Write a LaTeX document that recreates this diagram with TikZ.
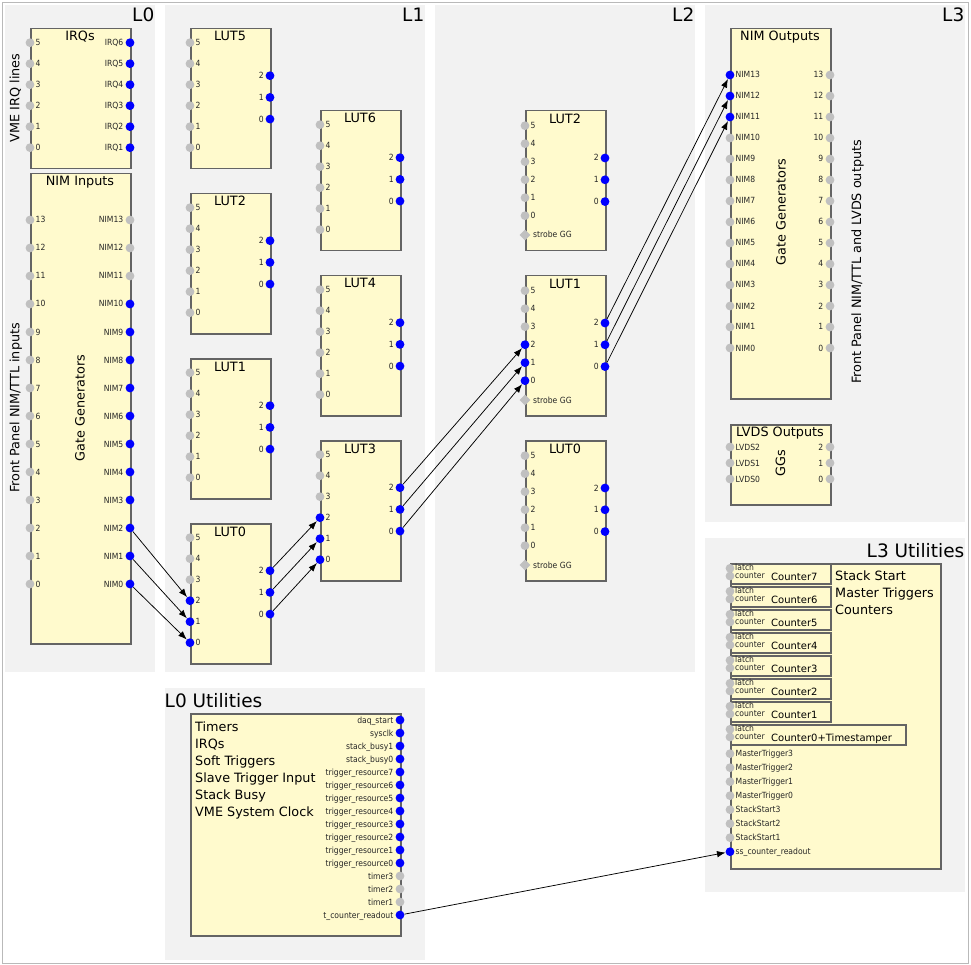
\documentclass[tikz,border=0pt]{standalone}
\usepackage{fontspec}
\setmainfont{DejaVu Sans}
\newfontfamily\condf{DejaVu Sans}[FakeStretch=0.9]
\usetikzlibrary{arrows.meta,shapes.geometric}
\definecolor{panelgray}{RGB}{242,242,242}
\definecolor{blkfill}{RGB}{255,250,205}
\definecolor{blkdraw}{RGB}{100,100,100}
\definecolor{portgray}{RGB}{192,192,192}
\definecolor{portblue}{RGB}{0,0,255}
\definecolor{framegray}{RGB}{185,185,185}
\tikzset{
 panel/.style={fill=panelgray, draw=none},
 blk/.style={draw=blkdraw, fill=blkfill, line width=1.5pt, inner sep=0pt, anchor=north west},
 port/.style={circle, fill=#1, draw=none, inner sep=0pt, minimum size=8.8pt},
 gdia/.style={diamond, fill=portgray, draw=none, inner sep=0pt, minimum width=11pt, minimum height=11pt},
 plab/.style={font=\condf\fontsize{8.5}{9}\selectfont, inner sep=0pt, text=black!85},
 lab/.style={plab, anchor=base west},
 rlab/.style={plab, anchor=base east},
 btitle/.style={font=\fontsize{12.8}{15}\selectfont, inner sep=0pt, anchor=base},
 ptitle/.style={font=\fontsize{18.5}{22}\selectfont, inner sep=0pt},
 mtext/.style={font=\fontsize{12.8}{15}\selectfont, inner sep=0pt, anchor=base west},
 ctext/.style={font=\fontsize{10}{12}\selectfont, inner sep=0pt, anchor=base west},
 smalltext/.style={plab, anchor=base west, font=\condf\fontsize{8.5}{8}\selectfont},
 vtext/.style={font=\fontsize{12.8}{15}\selectfont, inner sep=0pt, anchor=base, rotate=90},
 conn/.style={draw=black, line width=0.75pt, -{Latex[length=8.5pt,width=6.5pt]}},
}
% L1 LUT: name, x, top, title, number of blue inputs
\newcommand\lutA[5]{%
 \node[blk, minimum width=80pt, minimum height=140pt] (#1) at (#2,#3) {};
 \node[btitle] at ({#2+40},{#3+13}) {#4};
 \foreach \i [count=\k from 0] in {5,4,3,2,1,0}{%
   \ifnum\i<#5\def\pc{portblue}\else\def\pc{portgray}\fi
   \node[port=\pc] (#1-in\i) at (#2,{#3+14.7+21*\k}) {};
   \node[lab] at ({#2+5.5},{#3+17.7+21*\k}) {\i};
 }
 \foreach \i [count=\k from 0] in {2,1,0}{%
   \node[port=portblue] (#1-out\i) at ({#2+80},{#3+47.7+21.7*\k}) {};
   \node[rlab] at ({#2+74},{#3+50.7+21.7*\k}) {\i};
 }
}
% L2 LUT
\newcommand\lutB[5]{%
 \node[blk, minimum width=80pt, minimum height=140pt] (#1) at (#2,#3) {};
 \node[btitle] at ({#2+40},{#3+13.5}) {#4};
 \foreach \i [count=\k from 0] in {5,4,3,2,1,0}{%
   \ifnum\i<#5\def\pc{portblue}\else\def\pc{portgray}\fi
   \node[port=\pc] (#1-in\i) at (#2,{#3+15.7+18*\k}) {};
   \node[lab] at ({#2+5.5},{#3+18.7+18*\k}) {\i};
 }
 \node[gdia] (#1-strobe) at (#2,{#3+125}) {};
 \node[lab] at ({#2+8},{#3+128}) {strobe GG};
 \foreach \i [count=\k from 0] in {2,1,0}{%
   \node[port=portblue] (#1-out\i) at ({#2+80},{#3+48+21.8*\k}) {};
   \node[rlab] at ({#2+74},{#3+51+21.8*\k}) {\i};
 }
}
\begin{document}
\begin{tikzpicture}[x=1pt,y=-1pt]
\useasboundingbox (0,0) rectangle (971,965);
\fill[white] (0,0) rectangle (971,965);
\draw[framegray, line width=1pt] (2.5,2.5) rectangle (968.5,963.5);
% panels
\fill[panel] (5,5) rectangle (155,672);
\fill[panel] (165,5) rectangle (425,672);
\fill[panel] (435,5) rectangle (695,672);
\fill[panel] (705,5) rectangle (965,522);
\fill[panel] (705,538) rectangle (965,892);
\fill[panel] (165,688) rectangle (425,960);
\node[ptitle, anchor=base east] (tL0) at (154.5,22) {L0};
\node[ptitle, anchor=base east] (tL1) at (424.5,22) {L1};
\node[ptitle, anchor=base east] (tL2) at (694.5,22) {L2};
\node[ptitle, anchor=base east] (tL3) at (964.5,22) {L3};
\node[ptitle, anchor=base east] (tL3U) at (964.5,557) {L3 Utilities};
\node[ptitle, anchor=base west] (tL0U) at (164.5,707) {L0 Utilities};

% ---------- L0 ----------
\node[vtext] (vme) at (19.3,98) {VME IRQ lines};
\node[vtext] (fpin) at (19.3,408) {Front Panel NIM/TTL inputs};
\node[blk, minimum width=100pt, minimum height=140pt] (irqs) at (30,28) {};
\node[btitle] at (80,41) {IRQs};
\foreach \i [count=\k from 0] in {5,4,3,2,1,0}{%
  \pgfmathtruncatemacro\j{\i+1}
  \node[port=portgray] (irqs-i\i) at (30,{42.7+21*\k}) {};
  \node[lab] at (35.5,{45.7+21*\k}) {\i};
  \node[port=portblue] (irqs-o\j) at (130,{42.7+21*\k}) {};
  \node[rlab] at (123.5,{45.7+21*\k}) {IRQ\j};
}
\node[blk, minimum width=100pt, minimum height=470pt] (nimin) at (30,173) {};
\node[btitle] at (80,186) {NIM Inputs};
\node[vtext] (ggin) at (84.5,408) {Gate Generators};
\foreach \i [count=\k from 0] in {13,12,...,0}{%
  \ifnum\i<11 \def\pc{portblue}\else\def\pc{portgray}\fi
  \node[port=portgray] (nimin-i\i) at (30,{220+28*\k}) {};
  \node[lab] at (35.5,{223+28*\k}) {\i};
  \node[port=\pc] (nimin-o\i) at (130,{220+28*\k}) {};
  \node[rlab] at (123.5,{223+28*\k}) {NIM\i};
}

% ---------- L1 ----------
\lutA{luta5}{190}{28}{LUT5}{0}
\lutA{luta2}{190}{193}{LUT2}{0}
\lutA{luta1}{190}{358}{LUT1}{0}
\lutA{luta0}{190}{523}{LUT0}{3}
\lutA{luta6}{320}{110}{LUT6}{0}
\lutA{luta4}{320}{275}{LUT4}{0}
\lutA{luta3}{320}{440}{LUT3}{3}

% ---------- L2 ----------
\lutB{lutb2}{525}{110}{LUT2}{0}
\lutB{lutb1}{525}{275}{LUT1}{3}
\lutB{lutb0}{525}{440}{LUT0}{0}

% ---------- L3 ----------
\node[blk, minimum width=100pt, minimum height=370pt] (nimout) at (730,28) {};
\node[btitle] at (780,40.7) {NIM Outputs};
\node[vtext] (ggout) at (785.5,212) {Gate Generators};
\node[vtext] (fpout) at (861,262) {Front Panel NIM/TTL and LVDS outputs};
\foreach \i [count=\k from 0] in {13,12,...,0}{%
  \ifnum\i>10 \def\pc{portblue}\else\def\pc{portgray}\fi
  \node[port=\pc] (nimout-i\i) at (730,{75+21*\k}) {};
  \node[lab] at (735.5,{78+21*\k}) {NIM\i};
  \node[port=portgray] (nimout-o\i) at (830,{75+21*\k}) {};
  \node[rlab] at (823.5,{78+21*\k}) {\i};
}
\node[blk, minimum width=100pt, minimum height=80pt] (lvds) at (730,424) {};
\node[btitle] at (780,436.7) {LVDS Outputs};
\node[vtext] (ggs) at (785,463) {GGs};
\foreach \i [count=\k from 0] in {2,1,0}{%
  \node[port=portgray] (lvds-i\i) at (730,{447+16*\k}) {};
  \node[lab] at (735.5,{450+16*\k}) {LVDS\i};
  \node[port=portgray] (lvds-o\i) at (830,{447+16*\k}) {};
  \node[rlab] at (823.5,{450+16*\k}) {\i};
}

% ---------- L3 Utilities ----------
\node[blk, minimum width=210pt, minimum height=305pt] (l3u) at (730,563) {};
\foreach \s [count=\k from 0] in {Stack Start, Master Triggers, Counters}{%
  \node[mtext] at (835,{580.7+17*\k}) {\s};
}
\foreach \n [count=\k from 0] in {7,6,5,4,3,2,1}{%
  \node[blk, minimum width=100pt, minimum height=20pt] (cnt\n) at (730,{563+23*\k}) {};
  \node[port=portgray] (cnt\n-latch) at (730,{568.3+23*\k}) {};
  \node[port=portgray] (cnt\n-count) at (730,{576+23*\k}) {};
  \node[smalltext] at (735,{570.5+23*\k}) {latch};
  \node[smalltext] at (735,{578+23*\k}) {counter};
  \node[ctext] at (771,{580+23*\k}) {Counter\n};
}
\node[blk, minimum width=175pt, minimum height=20pt] (cnt0) at (730,724) {};
\node[port=portgray] (cnt0-latch) at (730,729.3) {};
\node[port=portgray] (cnt0-count) at (730,737) {};
\node[smalltext] at (735,731.5) {latch};
\node[smalltext] at (735,739) {counter};
\node[ctext] at (771,741) {Counter0+Timestamper};
\foreach \s/\c [count=\k from 0] in {MasterTrigger3/portgray, MasterTrigger2/portgray, MasterTrigger1/portgray, MasterTrigger0/portgray, StackStart3/portgray, StackStart2/portgray, StackStart1/portgray, ss\_counter\_readout/portblue}{%
  \node[port=\c] (l3u-p\k) at (730,{753.7+14*\k}) {};
  \node[lab] at (735.5,{756.7+14*\k}) {\s};
}

% ---------- L0 Utilities ----------
\node[blk, minimum width=210pt, minimum height=222pt] (l0u) at (190,713) {};
\foreach \s [count=\k from 0] in {Timers, IRQs, Soft Triggers, Slave Trigger Input, Stack Busy, VME System Clock}{%
  \node[mtext] at (195,{731+17*\k}) {\s};
}
\foreach \s/\c [count=\k from 0] in {daq\_start/portblue, sysclk/portblue, stack\_busy1/portblue, stack\_busy0/portblue, trigger\_resource7/portblue, trigger\_resource6/portblue, trigger\_resource5/portblue, trigger\_resource4/portblue, trigger\_resource3/portblue, trigger\_resource2/portblue, trigger\_resource1/portblue, trigger\_resource0/portblue, timer3/portgray, timer2/portgray, timer1/portgray, t\_counter\_readout/portblue}{%
  \node[port=\c] (l0u-p\k) at (400,{720+13*\k}) {};
  \node[rlab] at (393.5,{723+13*\k}) {\s};
}

% ---------- connections ----------
\foreach \i in {2,1,0}{%
  \draw[conn] (nimin-o\i) -- (luta0-in\i);
  \draw[conn] (luta0-out\i) -- (luta3-in\i);
  \draw[conn] (luta3-out\i) -- (lutb1-in\i);
}
\draw[conn] (lutb1-out2) -- (nimout-i13);
\draw[conn] (lutb1-out1) -- (nimout-i12);
\draw[conn] (lutb1-out0) -- (nimout-i11);
\draw[conn] (l0u-p15) -- (l3u-p7);
\end{tikzpicture}
\end{document}
